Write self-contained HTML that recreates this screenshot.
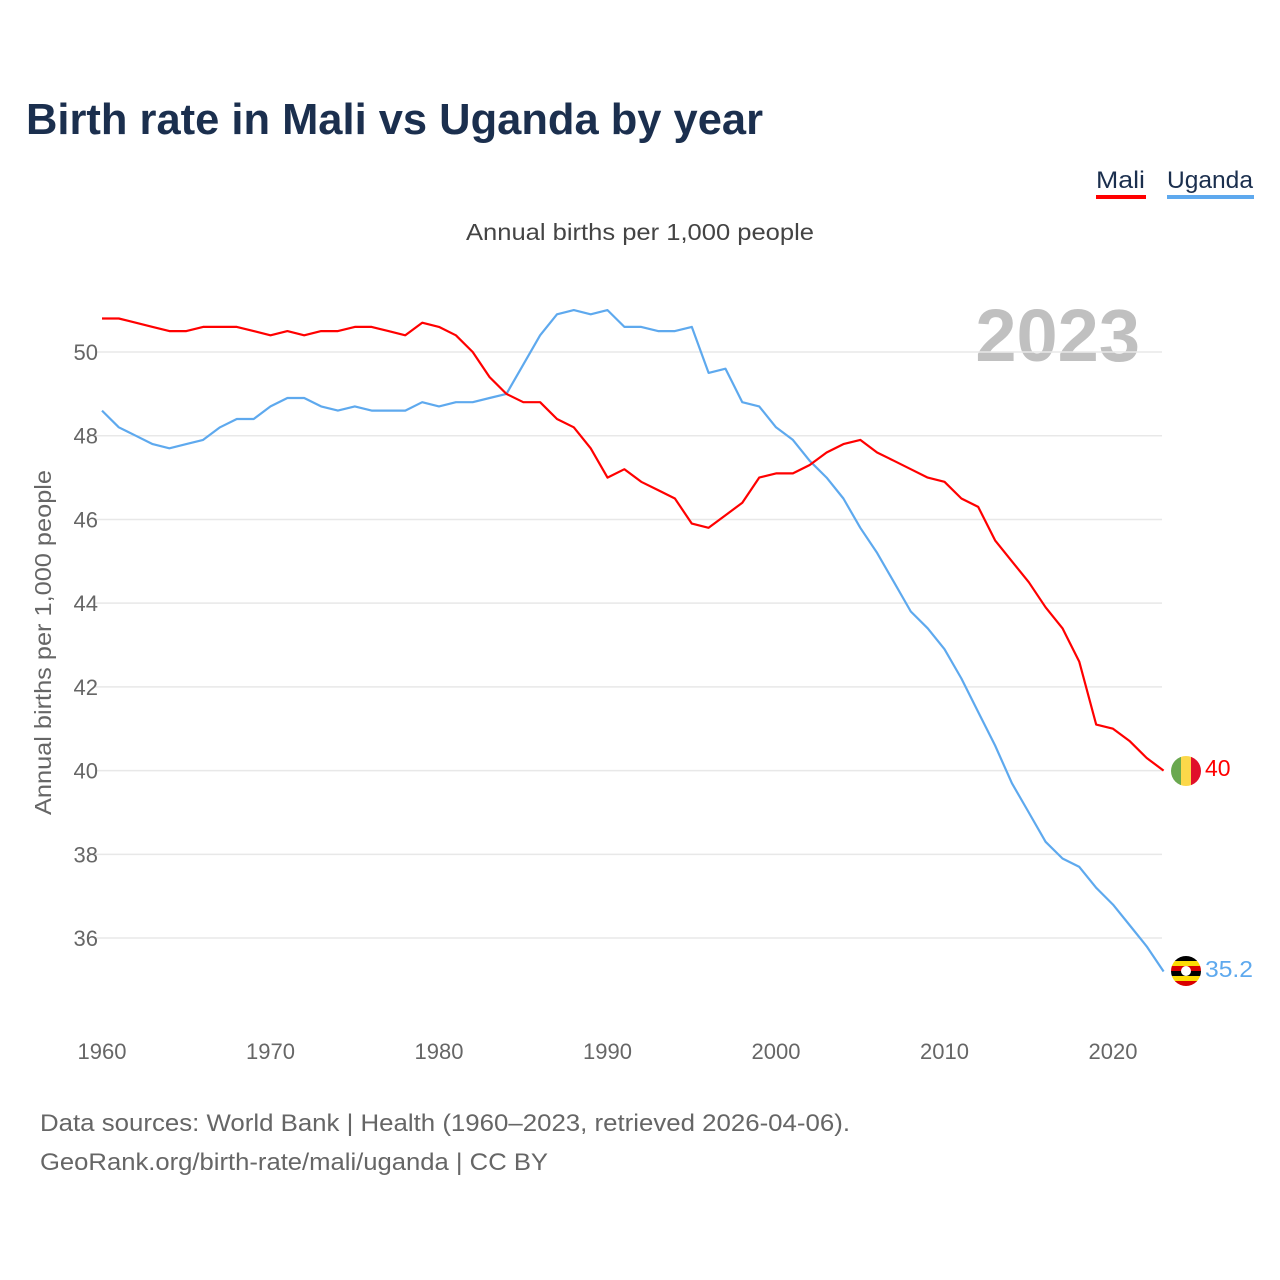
<!DOCTYPE html>
<html><head><meta charset="utf-8"><style>
body{margin:0;background:#fff;}
svg{display:block;font-family:"Liberation Sans",sans-serif;}
</style></head><body>
<svg id="chart" width="1280" height="1280">
<text x="26" y="134" font-size="44" font-weight="bold" fill="#1b2f4e" textLength="737" lengthAdjust="spacingAndGlyphs">Birth rate in Mali vs Uganda by year</text>
<g>
<text x="1096" y="188" font-size="24" fill="#1b2f4e" textLength="49" lengthAdjust="spacingAndGlyphs">Mali</text>
<rect x="1096" y="195" width="50" height="4" fill="#ff0000"/>
<text x="1167" y="188" font-size="24" fill="#1b2f4e" textLength="86" lengthAdjust="spacingAndGlyphs">Uganda</text>
<rect x="1167" y="195" width="87" height="4" fill="#5ea9ee"/>
</g>
<text x="466" y="240" font-size="23" fill="#444" textLength="348" lengthAdjust="spacingAndGlyphs">Annual births per 1,000 people</text>
<text x="1140" y="361" font-size="74" font-weight="bold" fill="#c0c0c0" text-anchor="end">2023</text>
<text transform="translate(51,815) rotate(-90)" font-size="23" fill="#666" textLength="345" lengthAdjust="spacingAndGlyphs">Annual births per 1,000 people</text>
<g id="grid"></g><g id="yticks"></g><g id="xticks"></g><g id="lines"></g>
<g>
<clipPath id="c1"><circle cx="1186" cy="771" r="15"/></clipPath>
<g clip-path="url(#c1)"><rect x="1171" y="756" width="10" height="30" fill="#6aa84f"/><rect x="1181" y="756" width="10" height="30" fill="#fcd84a"/><rect x="1191" y="756" width="10" height="30" fill="#e0102a"/></g>
<text x="1205" y="776" font-size="23" fill="#ff0000">40</text>
</g>
<g>
<clipPath id="c2"><circle cx="1186" cy="971" r="15"/></clipPath>
<g clip-path="url(#c2)"><rect x="1171" y="956" width="30" height="5" fill="#000"/><rect x="1171" y="961" width="30" height="5" fill="#fcdc04"/><rect x="1171" y="966" width="30" height="5" fill="#d90000"/><rect x="1171" y="971" width="30" height="5" fill="#000"/><rect x="1171" y="976" width="30" height="5" fill="#fcdc04"/><rect x="1171" y="981" width="30" height="5" fill="#d90000"/><circle cx="1186" cy="971" r="5" fill="#fff"/></g>
<text x="1205" y="977" font-size="23" fill="#5ea9ee" textLength="48" lengthAdjust="spacingAndGlyphs">35.2</text>
</g>
<text x="40" y="1131" font-size="24" fill="#666" textLength="810" lengthAdjust="spacingAndGlyphs">Data sources: World Bank | Health (1960–2023, retrieved 2026-04-06).</text>
<text x="40" y="1170" font-size="24" fill="#666" textLength="508" lengthAdjust="spacingAndGlyphs">GeoRank.org/birth-rate/mali/uganda | CC BY</text>
</svg>
<script>
const years=[];for(let y=1960;y<=2023;y++)years.push(y);
const mali=[50.8,50.8,50.7,50.6,50.5,50.5,50.6,50.6,50.6,50.5,50.4,50.5,50.4,50.5,50.5,50.6,50.6,50.5,50.4,50.7,50.6,50.4,50.0,49.4,49.0,48.8,48.8,48.4,48.2,47.7,47.0,47.2,46.9,46.7,46.5,45.9,45.8,46.1,46.4,47.0,47.1,47.1,47.3,47.6,47.8,47.9,47.6,47.4,47.2,47.0,46.9,46.5,46.3,45.5,45.0,44.5,43.9,43.4,42.6,41.1,41.0,40.7,40.3,40.0];
const uganda=[48.6,48.2,48.0,47.8,47.7,47.8,47.9,48.2,48.4,48.4,48.7,48.9,48.9,48.7,48.6,48.7,48.6,48.6,48.6,48.8,48.7,48.8,48.8,48.9,49.0,49.7,50.4,50.9,51.0,50.9,51.0,50.6,50.6,50.5,50.5,50.6,49.5,49.6,48.8,48.7,48.2,47.9,47.4,47.0,46.5,45.8,45.2,44.5,43.8,43.4,42.9,42.2,41.4,40.6,39.7,39.0,38.3,37.9,37.7,37.2,36.8,36.3,35.8,35.2];
const yTicks=[36,38,40,42,44,46,48,50];
const xTicks=[1960,1970,1980,1990,2000,2010,2020];
const NS='http://www.w3.org/2000/svg';
const X=y=>102+(y-1960)*16.85;
const Y=v=>352+(50-v)*41.86;
function mk(t,a,p){const e=document.createElementNS(NS,t);for(const k in a)e.setAttribute(k,a[k]);p.appendChild(e);return e;}
const grid=document.getElementById('grid'),yt=document.getElementById('yticks'),xt=document.getElementById('xticks'),lines=document.getElementById('lines');
yTicks.forEach(v=>{
const l=mk('line',{x1:95,x2:1162,y1:Y(v),y2:Y(v),stroke:'#e8e8e8','stroke-width':1.5},grid);


const t=mk('text',{x:98,y:Y(v)+8,'font-size':22,fill:'#666','text-anchor':'end'},yt);t.textContent=v;


});
xTicks.forEach(v=>{
const t=mk('text',{x:X(v),y:1059,'font-size':22,fill:'#666','text-anchor':'middle'},xt);t.textContent=v;


});
function line(vals,color,name){
const d=vals.map((v,i)=>(i?'L':'M')+X(years[i]).toFixed(1)+','+Y(v).toFixed(1)).join('');
const p=mk('path',{d:d,fill:'none',stroke:color,'stroke-width':2.2,'stroke-linejoin':'round'},lines);


}
line(uganda,'#5ea9ee','uganda-line');
line(mali,'#ff0000','mali-line');
</script>
</body></html>
